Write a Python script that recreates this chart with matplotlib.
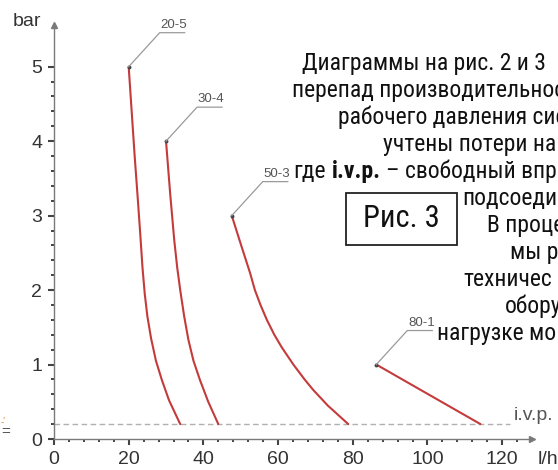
import numpy as np
import matplotlib
matplotlib.use("Agg")
import matplotlib.pyplot as plt
from matplotlib import font_manager
from matplotlib.ticker import FixedLocator
from matplotlib.patches import Rectangle

# ── data ────────────────────────────────────────────────────────────────────
x_20_5 = [20.0, 20.8, 21.6, 22.4, 23.1, 23.7, 24.3, 25.0, 26.0, 27.3, 28.9, 30.8, 33.8]
y_20_5 = [5.0, 4.4, 3.8, 3.25, 2.75, 2.3, 1.95, 1.65, 1.35, 1.05, 0.79, 0.52, 0.2]

x_30_4 = [30.0, 31.1, 32.2, 33.0, 33.8, 34.85, 36.0, 37.35, 39.1, 41.3, 44.0]
y_30_4 = [4.0, 3.3, 2.67, 2.3, 2.0, 1.65, 1.33, 1.05, 0.79, 0.5, 0.2]

x_50_3 = [47.6, 50.0, 52.5, 53.8, 55.3, 57.0, 59.0, 61.0, 64.1, 67.1, 69.4, 73.3, 78.8]
y_50_3 = [3.0, 2.62, 2.23, 2.0, 1.8, 1.6, 1.4, 1.23, 1.0, 0.8, 0.66, 0.45, 0.2]

x_80_1 = [86.3, 114.2]
y_80_1 = [1.0, 0.2]

curve_names = ["20-5", "30-4", "50-3", "80-1"]
ivp_level = 0.2
ivp_end = 122

x_major = [0, 20, 40, 60, 80, 100, 120]
y_major = [0, 1, 2, 3, 4, 5]

text_lines = [
    "Диаграммы на рис. 2 и 3",
    "перепад производительнос",
    "рабочего давления сис",
    "учтены потери на",
    None,  # line with bold i.v.p.
    "подсоеди",
    "В проце",
    "мы р",
    "техничес",
    "обору",
    "нагрузке мо",
]
text_left = [302, 292, 338, 383, 293, 462, 487, 510, 463, 505, 437]

# ── fonts ────────────────────────────────────────────────────────────────────
names = {f.name for f in font_manager.fontManager.ttflist}
cond_family = "DejaVu Sans"
for n in ["Roboto Condensed", "Liberation Sans Narrow", "Open Sans Condensed"]:
    if n in names:
        cond_family = n
        break
cond = dict(family=cond_family, stretch="condensed")
plt.rcParams["font.family"] = ["Liberation Sans", "DejaVu Sans"]

W, H = 558, 470
def fx(px): return px / W
def fy(py): return 1 - py / H

fig = plt.figure(figsize=(W / 100, H / 100), dpi=100)
ax = fig.add_axes([fx(54), fy(439), (532 - 54) / W, (439 - 25) / H])
ax.set_xlim(0, 128)
ax.set_ylim(0, 5.56)

axis_c = "#7a7a7a"
for s in ["top", "right"]:
    ax.spines[s].set_visible(False)
for s in ["left", "bottom"]:
    ax.spines[s].set_color(axis_c)
    ax.spines[s].set_linewidth(1.0)
ax.plot(1, 0, ">", transform=ax.transAxes, clip_on=False, ms=4, color=axis_c)
ax.plot(0, 1, "^", transform=ax.transAxes, clip_on=False, ms=4, color=axis_c)

ax.set_xticks(x_major)
ax.set_yticks(y_major)
ax.xaxis.set_minor_locator(FixedLocator([v for v in np.arange(4, 125, 4) if v % 20]))
ax.yaxis.set_minor_locator(FixedLocator([round(v, 1) for v in np.arange(0.2, 4.9, 0.2)
                                         if abs(v - round(v)) > 0.05]))
ax.tick_params(which="major", length=4.5, width=1.5, color="#444", labelsize=14,
               labelcolor="#333", pad=4)
ax.tick_params(which="minor", length=2.2, width=1.4, color="#444")

# i.v.p. line
ax.plot([0, ivp_end], [ivp_level, ivp_level], color="#b0b0b0", lw=1.0, dashes=(4, 2.5))
ax.text(ivp_end + 1.2, ivp_level, "i.v.p.", fontsize=14, color="#555",
        ha="left", va="bottom")

red = "#c33b3b"
lead_c = "#9a9a9a"
curves = [(x_20_5, y_20_5), (x_30_4, y_30_4), (x_50_3, y_50_3), (x_80_1, y_80_1)]
for (xs, ys), name in zip(curves, curve_names):
    ax.plot(xs, ys, color=red, lw=1.5, solid_capstyle="round", solid_joinstyle="round")
    # leader: diagonal up-right then a short horizontal underline
    p = ax.transData.transform((xs[0], ys[0]))
    fig.add_artist(plt.Line2D([p[0] / W, (p[0] + 31) / W, (p[0] + 56) / W],
                              [p[1] / H, (p[1] + 34) / H, (p[1] + 34) / H],
                              color=lead_c, lw=0.9))
    ax.annotate(name, xy=(xs[0], ys[0]), xytext=(45, 36), textcoords="offset pixels",
                ha="center", va="bottom", fontsize=9.5, color="#555")
    ax.plot(xs[0], ys[0], "o", ms=1.8, color="#444")

# axis labels
fig.text(fx(27), fy(22), "bar", fontsize=14, color="#333", ha="center", va="center")
fig.text(fx(538), fy(460), "l/h", fontsize=14, color="#333", ha="left", va="center")

# clipped artifact at left edge
fig.text(fx(1), fy(432), "=", fontsize=11, color="#555", ha="left", va="center")
fig.text(fx(1), fy(421), "-'", fontsize=7, color="#e08a2e", ha="left", va="center")

# overlay text
baseline0, step = 70, 27
fig.canvas.draw()
renderer = fig.canvas.get_renderer()
for i, (line, left) in enumerate(zip(text_lines, text_left)):
    yb = fy(baseline0 + step * i)
    if line is not None:
        fig.text(fx(left), yb, line, fontsize=17, color="#111", ha="left",
                 va="baseline", **cond)
    else:
        t1 = fig.text(fx(left), yb, "где", fontsize=17, color="#111", ha="left",
                      va="baseline", **cond)
        x1 = t1.get_window_extent(renderer).x1
        t2 = fig.text((x1 + 6) / W, yb, "i.v.p.", fontsize=17, color="#111",
                      ha="left", va="baseline", weight="bold", **cond)
        x2 = t2.get_window_extent(renderer).x1
        fig.text((x2 + 6) / W, yb, "– свободный впр", fontsize=17, color="#111",
                 ha="left", va="baseline", **cond)

# "Рис. 3" box
fig.add_artist(Rectangle((fx(346), fy(245)), (457 - 346) / W, (245 - 193) / H,
                         fill=False, edgecolor="#222", lw=1.3))
fig.text(fx(401.5), fy(219), "Рис. 3", fontsize=22, color="#111", ha="center",
         va="center", **cond)

fig.savefig("out.png", dpi=100)
